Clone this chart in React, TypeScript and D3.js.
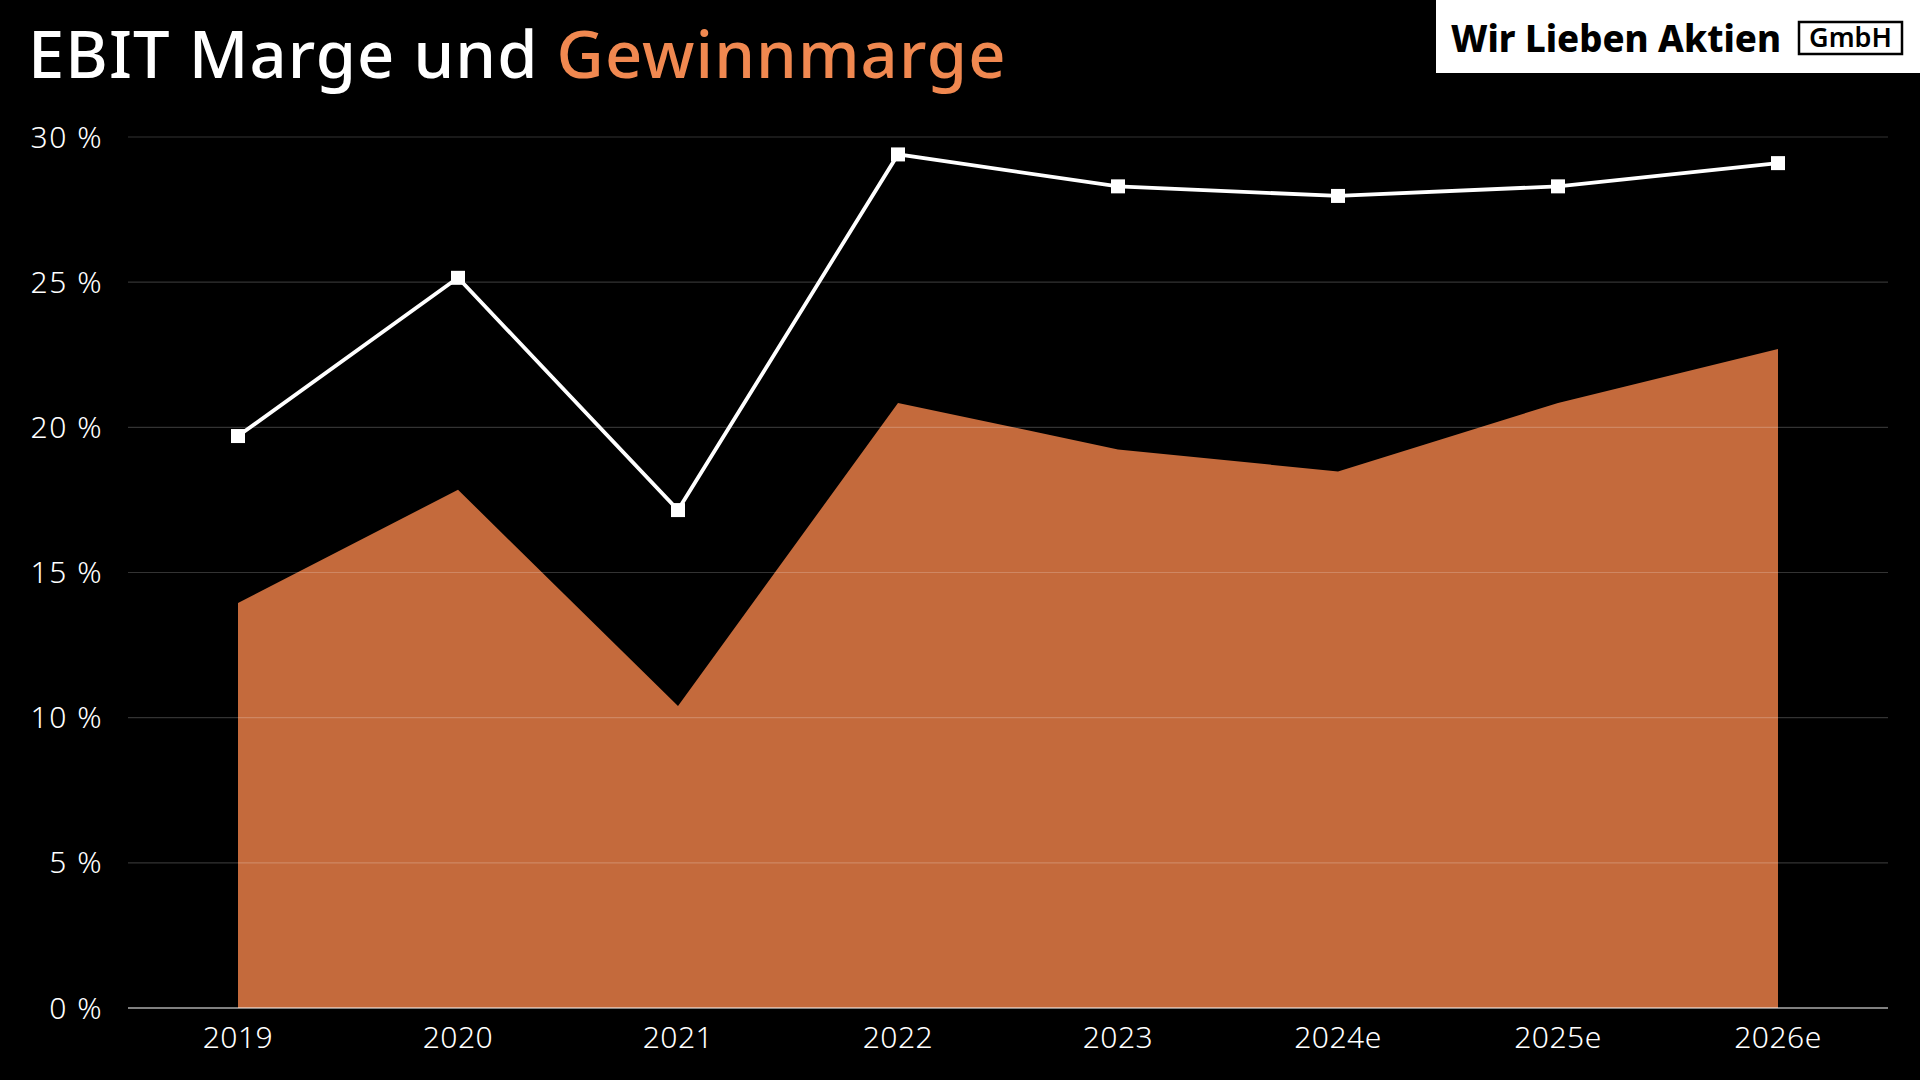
import React from "react";
import * as d3 from "d3";

const categories = ["2019", "2020", "2021", "2022", "2023", "2024e", "2025e", "2026e"];
const ebitMargin = [19.7, 25.15, 17.15, 29.4, 28.3, 27.97, 28.3, 29.1];
const netMargin = [13.95, 17.85, 10.4, 20.84, 19.24, 18.48, 20.84, 22.7];
const yTicks = [0, 5, 10, 15, 20, 25, 30];

const W = 1920;
const H = 1080;
const FONT = "'Noto Sans', 'Open Sans', sans-serif";

export default function App() {
  const x = d3.scaleBand<string>().domain(categories).range([128, 1888]).padding(0);
  const y = d3.scaleLinear().domain([0, 30]).range([1008, 137]);
  const cx = (c: string) => (x(c) as number) + x.bandwidth() / 2;

  const area = d3
    .area<number>()
    .x((_, i) => cx(categories[i]))
    .y0(y(0))
    .y1((d) => y(d));
  const line = d3
    .line<number>()
    .x((_, i) => cx(categories[i]))
    .y((d) => y(d));

  const ms = 14;

  return (
    <svg
      width={W}
      height={H}
      style={{ position: "fixed", left: 0, top: 0, background: "#000" }}
      fontFamily={FONT}
    >
      <rect x={0} y={0} width={W} height={H} fill="#000" />
      {/* Title */}
      <text x={28} y={78} fontSize={65} fontWeight={500} fill="#fff" letterSpacing={1.1}>
        EBIT Marge und <tspan fill="#F08850">Gewinnmarge</tspan>
      </text>

      {/* Logo */}
      <rect x={1436} y={0} width={W - 1436} height={73} fill="#fff" />
      <text
        x={1451}
        y={52}
        fontSize={38}
        fontWeight={800}
        fill="#000"
        textLength={330}
        lengthAdjust="spacingAndGlyphs"
      >
        Wir Lieben Aktien
      </text>
      <rect x={1799} y={22} width={103} height={32} fill="none" stroke="#000" strokeWidth={2.5} />
      <text x={1850.5} y={47} fontSize={27} fontWeight={600} fill="#000" textAnchor="middle">
        GmbH
      </text>

      {/* Area (Gewinnmarge) */}
      <path d={area(netMargin) as string} fill="#C46A3C" />

      {/* Gridlines */}
      {yTicks.map((t) => (
        <line
          key={t}
          x1={128}
          x2={1888}
          y1={y(t)}
          y2={y(t)}
          stroke={t === 0 ? "rgba(255,255,255,0.5)" : "rgba(255,255,255,0.2)"}
          strokeWidth={t === 0 ? 2 : 1.2}
        />
      ))}

      {/* Y tick labels */}
      {yTicks.map((t) => (
        <text
          key={"l" + t}
          x={103}
          y={y(t)}
          dy="0.35em"
          fontSize={30}
          fontWeight={300}
          fill="#fff"
          textAnchor="end"
          letterSpacing={1.5}
        >
          {t} %
        </text>
      ))}

      {/* X tick labels */}
      {categories.map((c) => (
        <text
          key={c}
          x={cx(c)}
          y={1048}
          fontSize={30}
          fontWeight={300}
          fill="#fff"
          textAnchor="middle"
          letterSpacing={0.5}
        >
          {c}
        </text>
      ))}

      {/* EBIT line */}
      <path d={line(ebitMargin) as string} fill="none" stroke="#fff" strokeWidth={3.8} />
      {ebitMargin.map((v, i) => (
        <rect
          key={"m" + i}
          x={cx(categories[i]) - ms / 2}
          y={y(v) - ms / 2}
          width={ms}
          height={ms}
          fill="#fff"
        />
      ))}
    </svg>
  );
}
